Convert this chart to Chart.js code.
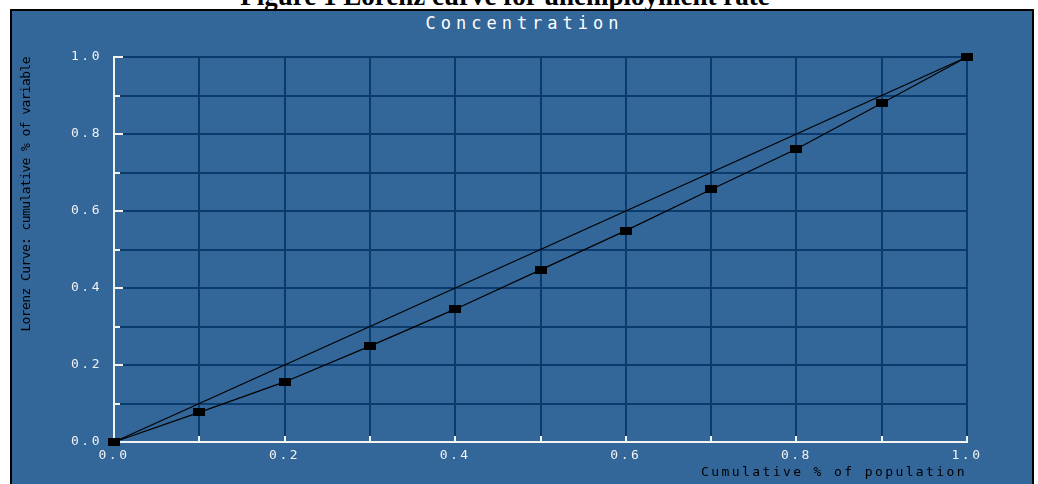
<!DOCTYPE html>
<html><head><meta charset="utf-8">
<script src="https://cdn.jsdelivr.net/npm/chart.js@4.4.1/dist/chart.umd.min.js"></script>
<style>
html,body{margin:0;padding:0;background:#fff;width:1038px;height:484px;overflow:hidden;position:relative;}
#caption{position:absolute;left:0;width:1010px;top:-17px;text-align:center;font:bold 27px "Liberation Serif",serif;color:#000;line-height:27px;white-space:nowrap;}
#panel{position:absolute;left:10px;top:9px;width:1024px;height:490px;background:#336699;border:2px solid #000;box-sizing:border-box;}
#title{position:absolute;left:10px;width:1024px;top:15px;text-align:center;font:17px "DejaVu Sans Mono",monospace;line-height:17px;letter-spacing:5px;padding-left:5px;box-sizing:border-box;color:#fff;white-space:nowrap;}
#c{position:absolute;left:0;top:0;}
</style></head><body>
<div id="caption">Figure 1 Lorenz curve for unemployment rate</div>
<div id="panel"></div>
<div id="title">Concentration</div>
<canvas id="c" width="1038" height="484"></canvas>
<script>
// ---- data ----
const populationShare = [0, 0.1, 0.2, 0.3, 0.4, 0.5, 0.6, 0.7, 0.8, 0.9, 1.0];
const variableShare   = [0, 0.077, 0.156, 0.249, 0.345, 0.447, 0.549, 0.656, 0.761, 0.880, 1.0];
const equalityX = [0, 1];
const equalityY = [0, 1];
const labeledTicks = [0, 0.2, 0.4, 0.6, 0.8, 1.0];
const xTitle = 'Cumulative % of population';
const yTitle = 'Lorenz Curve: cumulative % of variable';

const NAVY = '#0b3a6c';
const WHITE = '#f2f2f2';
const FONT = 'DejaVu Sans Mono';

const marker = document.createElement('canvas');
marker.width = 12; marker.height = 8;
{ const m = marker.getContext('2d'); m.fillStyle = '#000'; m.fillRect(0,0,12,8); }

function tickLabel(v){
  const hit = labeledTicks.find(t => Math.abs(t - v) < 1e-6);
  return hit === undefined ? '' : hit.toFixed(1);
}

const spacing = {x:{labels:'2.5px', title:'2.4px'}, y:{labels:'2.5px', title:'-0.6px'}};
const spacingPlugin = {
  id:'spacing',
  beforeDraw(chart){
    for (const id of ['x','y']) {
      const s = chart.scales[id];
      if (s._lsPatched) continue;
      s._lsPatched = true;
      const oL = s.drawLabels, oT = s.drawTitle;
      s.drawLabels = function(a){ const c=this.ctx; c.save(); c.letterSpacing=spacing[id].labels; oL.call(this,a); c.restore(); };
      s.drawTitle = function(){ const c=this.ctx; c.save(); c.letterSpacing=spacing[id].title; oT.call(this); c.restore(); };
    }
  }
};

const innerTicks = {
  id:'innerTicks',
  beforeDatasetsDraw(chart){
    const {ctx, scales:{x, y}, chartArea:a} = chart;
    ctx.save();
    ctx.strokeStyle = WHITE; ctx.lineWidth = 2;
    for (const t of x.ticks) {
      const px = Math.round(x.getPixelForValue(t.value));
      ctx.beginPath(); ctx.moveTo(px, a.bottom); ctx.lineTo(px, a.bottom - 6); ctx.stroke();
    }
    for (const t of y.ticks) {
      const py = Math.round(y.getPixelForValue(t.value));
      const len = tickLabel(t.value) ? 9 : 6;
      ctx.beginPath(); ctx.moveTo(a.left, py); ctx.lineTo(a.left + len, py); ctx.stroke();
    }
    ctx.restore();
  }
};

new Chart(document.getElementById('c'), {
  type: 'line',
  data: {
    datasets: [
      {
        data: equalityX.map((x,i)=>({x, y: equalityY[i]})),
        borderColor: '#000', borderWidth: 1.2, pointRadius: 0, clip: false
      },
      {
        data: populationShare.map((x,i)=>({x, y: variableShare[i]})),
        borderColor: '#000', borderWidth: 1.2,
        pointStyle: marker, pointRadius: 6, clip: false
      }
    ]
  },
  options: {
    responsive: false,
    animation: false,
    events: [],
    layout: { padding: { left: 0, top: 57, right: 71, bottom: 0 } },
    plugins: { legend: { display: false }, tooltip: { enabled: false }, title: { display: false } },
    scales: {
      x: {
        type: 'linear', position: 'bottom', min: 0, max: 1,
        afterFit(s){ s.height = 42; },
        ticks: { stepSize: 0.1, autoSkip: false, maxRotation: 0, padding: 6, color: WHITE,
                 font: { family: FONT, size: 13 }, callback: tickLabel },
        grid: { color: NAVY, lineWidth: 2, drawTicks: false },
        border: { color: WHITE, width: 2 },
        title: { display: true, text: xTitle, align: 'end', color: '#000',
                 font: { family: FONT, size: 13 }, padding: { top: 0, bottom: 4 } }
      },
      y: {
        type: 'linear', position: 'left', min: 0, max: 1,
        afterFit(s){ s.width = 114; },
        ticks: { stepSize: 0.1, autoSkip: false, padding: 12, color: WHITE,
                 font: { family: FONT, size: 13 }, callback: tickLabel },
        grid: { color: NAVY, lineWidth: 2, drawTicks: false },
        border: { color: WHITE, width: 2 },
        title: { display: true, text: yTitle, align: 'end', color: '#000',
                 font: { family: FONT, size: 13 }, padding: { top: 19, bottom: 0 } }
      }
    }
  },
  plugins: [spacingPlugin, innerTicks]
});
</script>
</body></html>
